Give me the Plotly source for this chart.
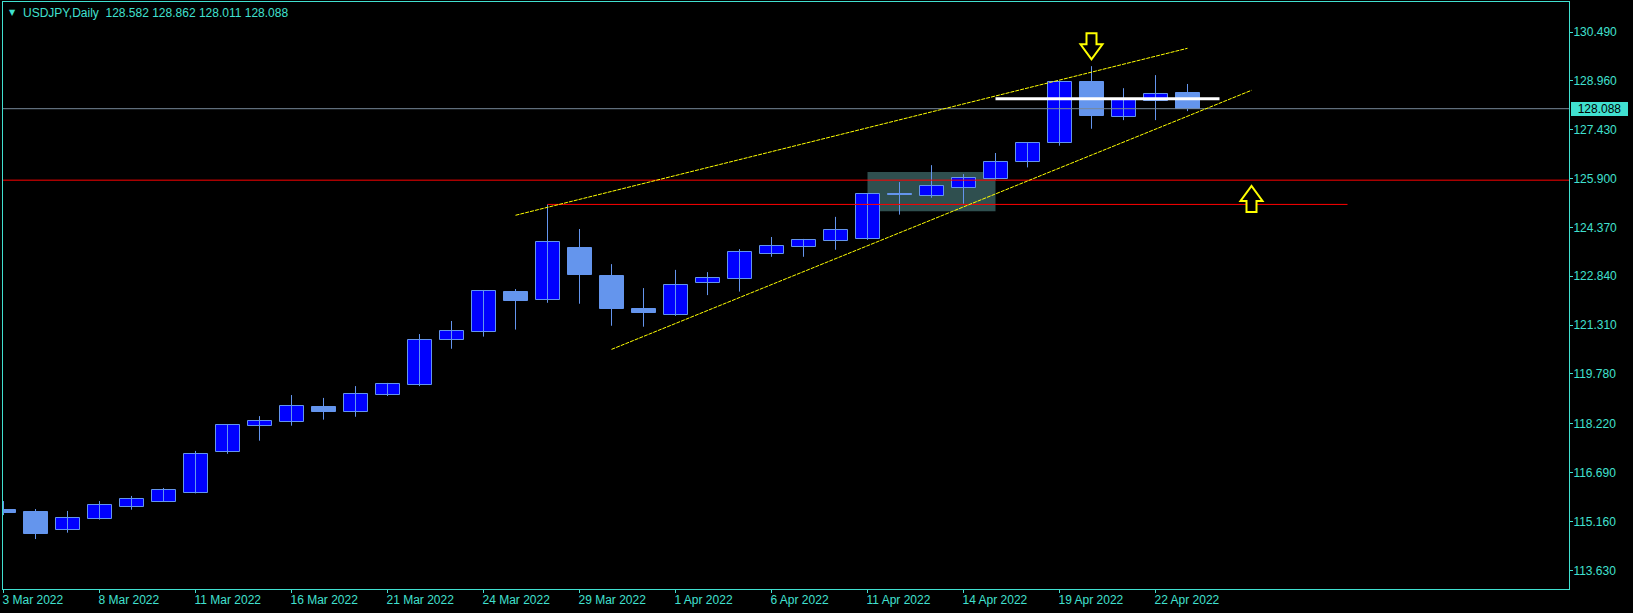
import plotly.graph_objects as go
from datetime import datetime

# ---------------- data ----------------
dates = ["2022-03-03", "2022-03-04", "2022-03-07", "2022-03-08", "2022-03-09", "2022-03-10",
         "2022-03-11", "2022-03-14", "2022-03-15", "2022-03-16", "2022-03-17", "2022-03-18",
         "2022-03-21", "2022-03-22", "2022-03-23", "2022-03-24", "2022-03-25", "2022-03-28",
         "2022-03-29", "2022-03-30", "2022-03-31", "2022-04-01", "2022-04-04", "2022-04-05",
         "2022-04-06", "2022-04-07", "2022-04-08", "2022-04-11", "2022-04-12", "2022-04-13",
         "2022-04-14", "2022-04-15", "2022-04-18", "2022-04-19", "2022-04-20", "2022-04-21",
         "2022-04-22", "2022-04-25"]
opens = [115.52, 115.46, 114.90, 115.25, 115.62, 115.78, 116.06, 117.35, 118.16, 118.29,
         118.75, 118.60, 119.13, 119.44, 120.83, 121.10, 122.35, 122.09, 123.72, 122.84,
         121.81, 121.64, 122.62, 122.76, 123.55, 123.77, 123.93, 124.00, 125.41, 125.34,
         125.60, 125.88, 126.41, 127.00, 128.92, 127.82, 128.34, 128.582]
highs = [115.80, 115.55, 115.49, 115.80, 115.96, 116.21, 117.37, 118.21, 118.46, 119.12,
         119.03, 119.40, 119.50, 121.03, 121.44, 122.41, 122.44, 125.09, 124.32, 123.22,
         122.47, 123.04, 122.97, 123.69, 124.07, 124.01, 124.70, 125.42, 125.79, 126.32,
         126.04, 126.70, 127.01, 128.93, 129.42, 128.73, 129.14, 128.862]
lows = [115.36, 114.61, 114.81, 115.22, 115.53, 115.77, 116.04, 117.28, 117.69, 118.16,
        118.35, 118.44, 119.09, 119.40, 120.57, 120.95, 121.17, 122.01, 121.98, 121.29,
        121.26, 121.60, 122.25, 122.36, 123.45, 123.45, 123.67, 123.98, 124.77, 125.30,
        125.11, 125.87, 126.25, 126.93, 127.46, 127.73, 127.73, 128.011]
closes = [115.44, 114.77, 115.26, 115.67, 115.86, 116.14, 117.26, 118.17, 118.30, 118.77,
          118.60, 119.14, 119.46, 120.83, 121.12, 122.37, 122.07, 123.90, 122.89, 121.82,
          121.70, 122.56, 122.78, 123.59, 123.78, 123.97, 124.28, 125.41, 125.38, 125.67,
          125.91, 126.41, 127.00, 128.92, 127.87, 128.38, 128.55, 128.088]
price_ticks = [130.490, 128.960, 127.430, 125.900, 124.370, 122.840, 121.310,
               119.780, 118.220, 116.690, 115.160, 113.630]
symbol = "USDJPY,Daily"
current_price = 128.088

# chart objects (bar index, price)
hline_red = 125.85
ray_red = [(17, 125.09), (42, 125.09)]
trend_upper = [(16, 124.75), (37, 129.98)]
trend_lower = [(19, 120.55), (39, 128.664)]
white_line = [(31, 128.40), (38, 128.40)]
rect_zone = [(27, 126.105), (31, 124.88)]
arrow_down_at = (34, 130.04)
arrow_up_at = (39, 125.26)

# ---------------- style ----------------
FG = "#40E0D0"
BULL = "#0000FF"
BEAR = "#6495ED"
FONT = "Liberation Sans"

n = len(dates)
idx = list(range(n))

fig = go.Figure()

# wicks
wx, wy = [], []
for i in idx:
    wx += [i, i, None]
    wy += [lows[i], highs[i], None]
fig.add_trace(go.Scatter(x=wx, y=wy, mode="lines", line=dict(color=BEAR, width=1),
                         hoverinfo="skip", showlegend=False))

# bodies
for bull in (True, False):
    xs, base, h = [], [], []
    for i in idx:
        up = closes[i] >= opens[i]
        if up == bull:
            xs.append(i)
            base.append(min(opens[i], closes[i]))
            h.append(max(abs(closes[i] - opens[i]), 0.02))
    fig.add_trace(go.Bar(x=xs, y=h, base=base, width=0.75,
                         marker=dict(color=BULL if bull else BEAR,
                                     line=dict(color=BEAR, width=1)),
                         showlegend=False, hoverinfo="skip"))

shapes = []
# zone rectangle (background)
shapes.append(dict(type="rect", xref="x", yref="y", x0=rect_zone[0][0], x1=rect_zone[1][0],
                   y0=rect_zone[0][1], y1=rect_zone[1][1], fillcolor="#2F4F4F",
                   line=dict(width=0), layer="below"))
# current price line
shapes.append(dict(type="line", xref="paper", yref="y", x0=0, x1=1, y0=current_price,
                   y1=current_price, line=dict(color="#778899", width=1)))
# red horizontal line
shapes.append(dict(type="line", xref="paper", yref="y", x0=0, x1=1, y0=hline_red,
                   y1=hline_red, line=dict(color="#FF0000", width=1)))
# red ray
shapes.append(dict(type="line", xref="x", yref="y", x0=ray_red[0][0], y0=ray_red[0][1],
                   x1=ray_red[1][0], y1=ray_red[1][1], line=dict(color="#FF0000", width=1)))
# trend lines
for tl in (trend_upper, trend_lower):
    shapes.append(dict(type="line", xref="x", yref="y", x0=tl[0][0], y0=tl[0][1],
                       x1=tl[1][0], y1=tl[1][1],
                       line=dict(color="#FFFF00", width=1, dash="4px,1px")))
# white level
shapes.append(dict(type="line", xref="x", yref="y", x0=white_line[0][0], y0=white_line[0][1],
                   x1=white_line[1][0], y1=white_line[1][1], line=dict(color="#FFFFFF", width=3)))
# arrows (pixel-sized paths anchored at bar/price)
down_path = "M-5,13 L5,13 L5,2 L11,2 L0,-13 L-11,2 L-5,2 Z"
up_path = "M-5,-13 L5,-13 L5,-2 L11,-2 L0,13 L-11,-2 L-5,-2 Z"
for (ax_, ay_), p in ((arrow_down_at, down_path), (arrow_up_at, up_path)):
    shapes.append(dict(type="path", xref="x", yref="y", xsizemode="pixel", ysizemode="pixel",
                       xanchor=ax_, yanchor=ay_, path=p, fillcolor="#000000",
                       line=dict(color="#FFFF00", width=2)))

# tick labels
def fmt_date(s):
    d = datetime.strptime(s, "%Y-%m-%d")
    return f"{d.day} {d.strftime('%b')} {d.year}"

xtick_vals = idx[::3]
xtick_text = [fmt_date(dates[i]) for i in xtick_vals]

px_per_bar = 32.0
plot_w = 1633 - 3 - 64
x0 = -0.5 / px_per_bar
x1 = x0 + plot_w / px_per_bar

k = 31.93  # px per price unit
y_top = price_ticks[0] + 30 / k
y_bot = price_ticks[0] - 557 / k

annotations = [
    dict(xref="paper", yref="paper", x=0, y=1, xanchor="left", yanchor="middle",
         xshift=4, yshift=-10.5, text="▼", showarrow=False,
         font=dict(family="DejaVu Sans", size=8, color=FG)),
    dict(xref="paper", yref="paper", x=0, y=1, xanchor="left", yanchor="middle",
         xshift=18, yshift=-10.5,
         text=symbol + "\u00a0\u00a0" + " ".join(f"{v:.3f}" for v in
                                                   (opens[-1], highs[-1], lows[-1], closes[-1])),
         showarrow=False, font=dict(family=FONT, size=12, color=FG)),
    dict(xref="paper", yref="y", x=1, y=current_price, xanchor="left", yanchor="middle",
         xshift=2, text=f"{current_price:.3f}", showarrow=False, bgcolor=FG,
         borderpad=0, borderwidth=0, width=57, height=14, align="center",
         font=dict(family=FONT, size=12, color="#000000")),
]

fig.update_layout(
    width=1633, height=613,
    margin=dict(l=3, r=64, t=2, b=24, pad=0),
    paper_bgcolor="#000000", plot_bgcolor="#000000",
    barmode="overlay", showlegend=False, bargap=0,
    shapes=shapes, annotations=annotations,
    font=dict(family=FONT, size=12, color=FG),
    xaxis=dict(range=[x0, x1], tickmode="array", tickvals=xtick_vals, ticktext=xtick_text,
               showgrid=False, zeroline=False, showline=True, linecolor=FG, linewidth=1,
               mirror=True, ticks="outside", ticklen=3, tickcolor=FG,
               ticklabelposition="outside right", ticklabelshift=-2,
               tickfont=dict(family=FONT, size=12, color=FG)),
    yaxis=dict(range=[y_bot, y_top], side="right", tickmode="array", tickvals=price_ticks,
               ticktext=[f"{v:.3f}" for v in price_ticks],
               showgrid=False, zeroline=False, showline=True, linecolor=FG, linewidth=1,
               mirror=True, ticks="outside", ticklen=3, tickcolor=FG, ticklabelstandoff=-2,
               tickfont=dict(family=FONT, size=12, color=FG)),
)

fig.write_html("out.html", config={"displayModeBar": False},
               post_script="document.body.style.margin='0';document.body.style.background='#000';")
